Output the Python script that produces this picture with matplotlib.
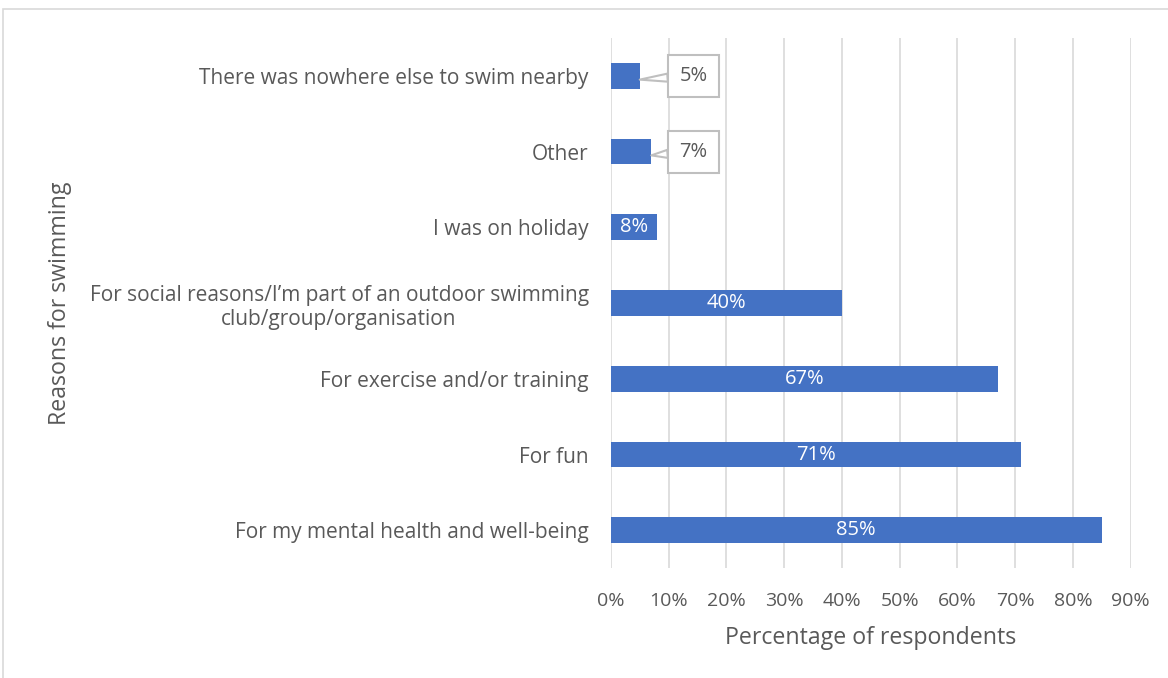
import matplotlib.pyplot as plt
from matplotlib.patches import Rectangle
from matplotlib.ticker import FuncFormatter

plt.rcParams['font.family'] = ['Open Sans', 'DejaVu Sans']

# Reasons, listed top to bottom
reasons = [
    "There was nowhere else to swim nearby",
    "Other",
    "I was on holiday",
    "For social reasons/I\u2019m part of an outdoor swimming\nclub/group/organisation",
    "For exercise and/or training",
    "For fun",
    "For my mental health and well-being",
]
pct = [5, 7, 8, 40, 67, 71, 85]
callout = [True, True, False, False, False, False, False]

bar_col = '#4472c4'
txt_col = '#595959'
grid_col = '#d9d9d9'

fig = plt.figure(figsize=(11.68, 6.78), dpi=100)
ax = fig.add_axes([0.523, 0.162, 0.445, 0.782])

# outer chart border
fig.patches.append(Rectangle((3 / 1168, -0.01), 1.0, 1 - 9 / 678 + 0.01,
                             transform=fig.transFigure, fill=False,
                             ec=grid_col, lw=1.2))

ypos = list(range(len(reasons)))
ax.barh(ypos, pct, height=0.34, color=bar_col, zorder=3)
ax.set_ylim(len(reasons) - 0.5, -0.5)
ax.set_xlim(0, 90)
ax.set_xticks(range(0, 91, 10))
ax.xaxis.set_major_formatter(FuncFormatter(lambda v, p: f"{v:.0f}%"))
ax.set_yticks(ypos)
ax.set_yticklabels(reasons, multialignment='center', fontsize=15)

ax.grid(axis='x', color=grid_col, lw=1.2, zorder=0)
for s in ax.spines.values():
    s.set_visible(False)
ax.tick_params(axis='both', length=0, colors=txt_col)
ax.tick_params(axis='x', labelsize=14, pad=17)
ax.tick_params(axis='y', pad=16)

ax.set_xlabel("Percentage of respondents", fontsize=16.7, color=txt_col, labelpad=12)
ax.set_ylabel("Reasons for swimming", fontsize=16.7, color=txt_col)
ax.yaxis.set_label_coords(-1.037, 0.5)

for y, v, c in zip(ypos, pct, callout):
    if c:
        ax.annotate(f"{v}%", xy=(v, y + 0.05), xytext=(14.3, y),
                    ha='center', va='center', fontsize=14.5, color=txt_col,
                    bbox=dict(boxstyle='square,pad=0.55', fc='white', ec='#bfbfbf', lw=1.5),
                    arrowprops=dict(arrowstyle='wedge,tail_width=0.4', fc='white',
                                    ec='#bfbfbf', lw=1.5, shrinkA=0, shrinkB=0),
                    zorder=4)
    else:
        ax.text(v / 2, y, f"{v}%", ha='center', va='center', fontsize=14.5,
                color='white', zorder=4)

fig.savefig('out.png', dpi=100)
